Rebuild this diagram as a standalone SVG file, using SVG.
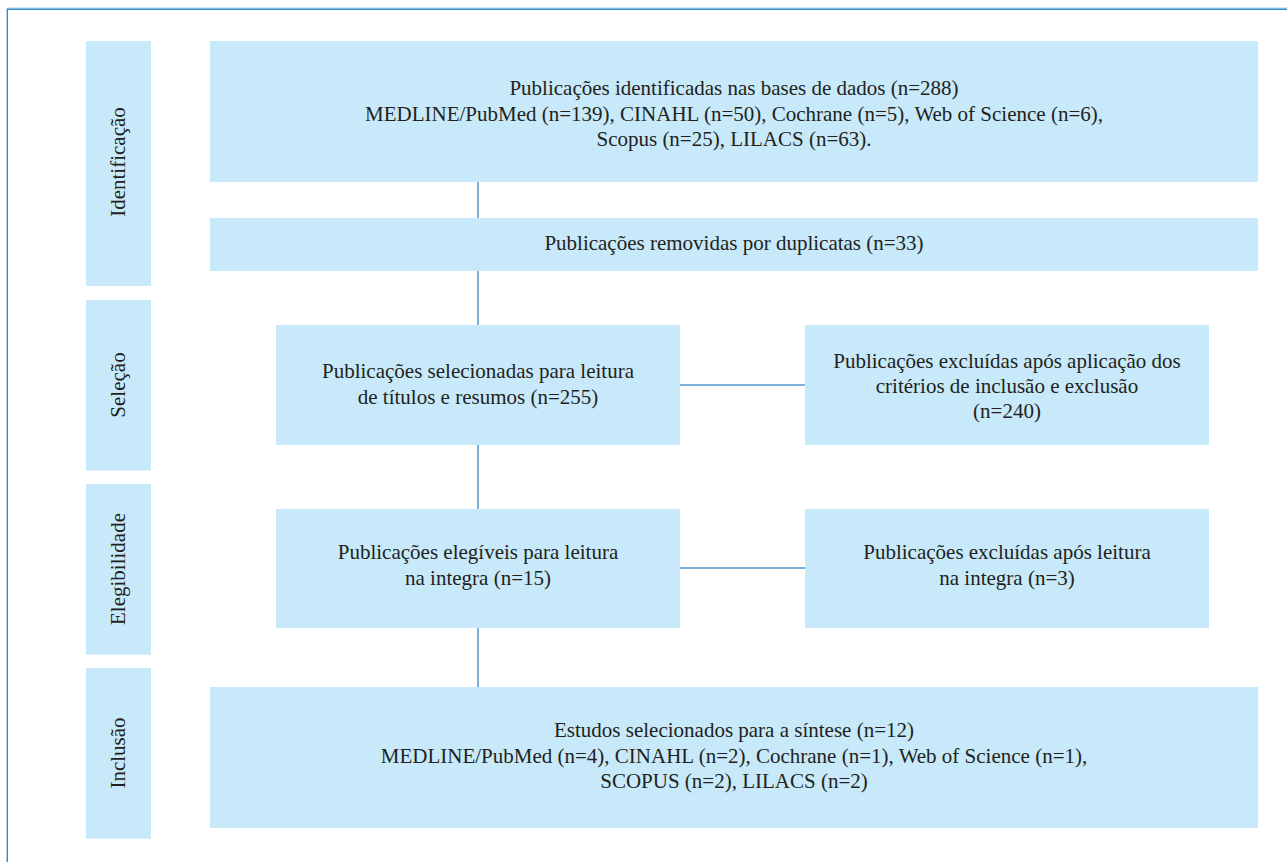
<svg xmlns="http://www.w3.org/2000/svg" width="1287" height="862" viewBox="0 0 1287 862">
<defs>
<style>
.box{fill:#c7e9f9;}
.t{font-family:"Liberation Serif","Times New Roman",serif;font-size:21px;fill:#231f20;text-anchor:middle;}
.c{stroke:#5096cc;stroke-width:1.5;fill:none;}
.frame{stroke:#2f8dc8;stroke-width:1.4;fill:none;}
</style>
</defs>
<rect width="1287" height="862" fill="#ffffff"/>
<g id="frame">
<line x1="7" y1="8" x2="1287" y2="8" stroke="#a9d3ee" stroke-width="1"/>
<path class="frame" d="M7.3,862 V9.3 H1287"/>
</g>
<g id="connectors">
<line class="c" x1="478" y1="182" x2="478" y2="218"/>
<line class="c" x1="478" y1="271" x2="478" y2="325"/>
<line class="c" x1="478" y1="445" x2="478" y2="509"/>
<line class="c" x1="478" y1="628" x2="478" y2="687"/>
<line class="c" x1="680" y1="385" x2="805" y2="385"/>
<line class="c" x1="680" y1="568" x2="805" y2="568"/>
</g>
<g id="stage-identificacao">
<rect class="box" x="86" y="41" width="65" height="245"/>
<text class="t" transform="translate(125,162) rotate(-90)">Identificação</text>
</g>
<g id="stage-selecao">
<rect class="box" x="86" y="300" width="65" height="170.5"/>
<text class="t" transform="translate(125,385) rotate(-90)">Seleção</text>
</g>
<g id="stage-elegibilidade">
<rect class="box" x="86" y="484" width="65" height="170.7"/>
<text class="t" transform="translate(125,569) rotate(-90)">Elegibilidade</text>
</g>
<g id="stage-inclusao">
<rect class="box" x="86" y="668" width="65" height="170.7"/>
<text class="t" transform="translate(125,753) rotate(-90)">Inclusão</text>
</g>
<g id="node-identificadas">
<rect class="box" x="210" y="41" width="1048" height="141"/>
<text class="t" x="734" y="95">Publicações identificadas nas bases de dados (n=288)</text>
<text class="t" x="734" y="121">MEDLINE/PubMed (n=139), CINAHL (n=50), Cochrane (n=5), Web of Science (n=6),</text>
<text class="t" x="734" y="146">Scopus (n=25), LILACS (n=63).</text>
</g>
<g id="node-duplicatas">
<rect class="box" x="210" y="218" width="1048" height="53"/>
<text class="t" x="734" y="250">Publicações removidas por duplicatas (n=33)</text>
</g>
<g id="node-selecionadas">
<rect class="box" x="276" y="325" width="404" height="120"/>
<text class="t" x="478" y="378">Publicações selecionadas para leitura</text>
<text class="t" x="478" y="404">de títulos e resumos (n=255)</text>
</g>
<g id="node-excluidas-criterios">
<rect class="box" x="805" y="325" width="404" height="120"/>
<text class="t" x="1007" y="368">Publicações excluídas após aplicação dos</text>
<text class="t" x="1007" y="393">critérios de inclusão e exclusão</text>
<text class="t" x="1007" y="418">(n=240)</text>
</g>
<g id="node-elegiveis">
<rect class="box" x="276" y="509" width="404" height="119"/>
<text class="t" x="478" y="559">Publicações elegíveis para leitura</text>
<text class="t" x="478" y="585">na integra (n=15)</text>
</g>
<g id="node-excluidas-leitura">
<rect class="box" x="805" y="509" width="404" height="119"/>
<text class="t" x="1007" y="559">Publicações excluídas após leitura</text>
<text class="t" x="1007" y="585">na integra (n=3)</text>
</g>
<g id="node-inclusao">
<rect class="box" x="210" y="687" width="1048" height="141"/>
<text class="t" x="734" y="737">Estudos selecionados para a síntese (n=12)</text>
<text class="t" x="734" y="763">MEDLINE/PubMed (n=4), CINAHL (n=2), Cochrane (n=1), Web of Science (n=1),</text>
<text class="t" x="734" y="788">SCOPUS (n=2), LILACS (n=2)</text>
</g>
</svg>
